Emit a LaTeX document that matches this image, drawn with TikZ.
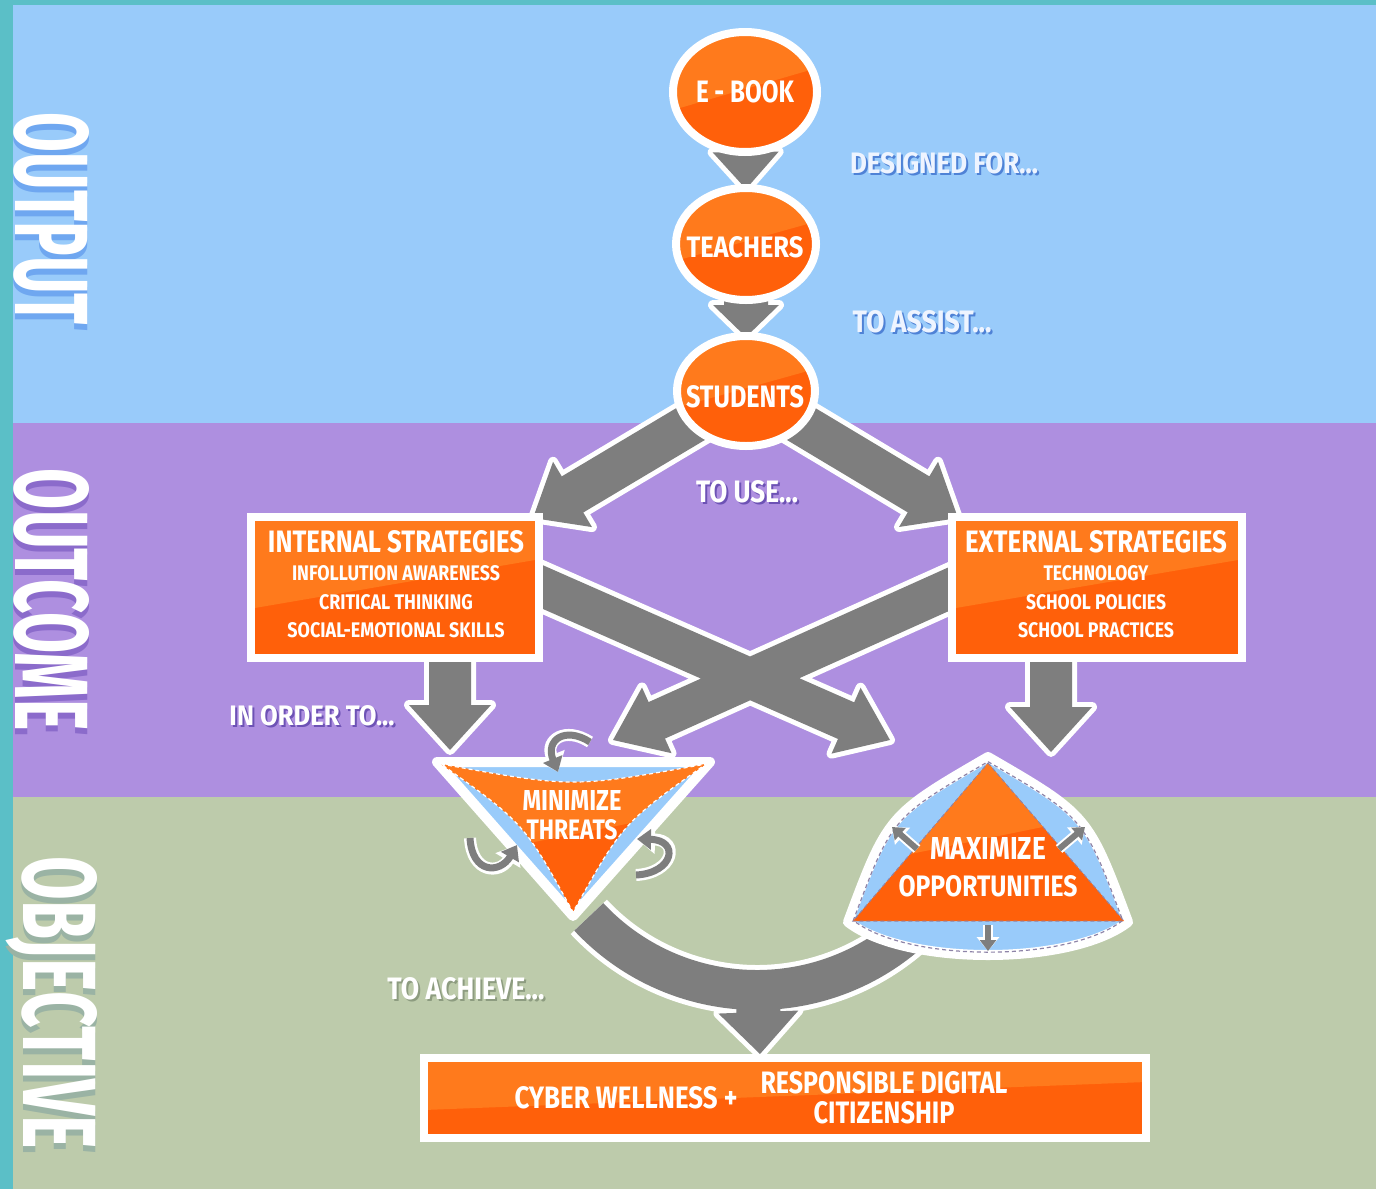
\documentclass[tikz,border=0pt]{standalone}
\usepackage{fontspec}
\usepackage{graphicx}
\setmainfont{Fira Sans}
\usetikzlibrary{shapes.geometric,calc,arrows.meta}
\pgfdeclarelayer{bands}\pgfdeclarelayer{arrows}
\pgfsetlayers{bands,arrows,main}
\definecolor{tealb}{HTML}{5BBFC7}
\definecolor{bandB}{HTML}{99CBFA}
\definecolor{bandP}{HTML}{AE8FE0}
\definecolor{bandG}{HTML}{BDCBAB}
\definecolor{orL}{HTML}{FF7A1C}
\definecolor{orD}{HTML}{FF600A}
\definecolor{grayA}{HTML}{7E7E7E}
\definecolor{shB}{HTML}{4F82D6}
\definecolor{shP}{HTML}{6D52B5}
\definecolor{shG}{HTML}{8D9C80}
\definecolor{txB}{HTML}{EEF4FF}
\definecolor{lblB}{HTML}{6FA7F0}
\definecolor{lblP}{HTML}{8B6BCB}
\definecolor{lblG}{HTML}{9AB3A4}
\definecolor{dashc}{HTML}{8E84A8}
\newcommand\Tx[3]{\resizebox{#1pt}{#2pt}{\bfseries #3}}
\newcommand\defarrow[6]{%
  \coordinate (#1A) at (#2);
  \coordinate (#1B) at (#3);
  \coordinate (#1H) at ($(#1B)!#6!(#1A)$);
  \coordinate (#1p1) at ($(#1A)!#4!90:(#1B)$);
  \coordinate (#1p2) at ($(#1H)!#4!-90:(#1A)$);
  \coordinate (#1p3) at ($(#1H)!#5!-90:(#1A)$);
  \coordinate (#1p5) at ($(#1H)!#5!90:(#1A)$);
  \coordinate (#1p6) at ($(#1H)!#4!90:(#1A)$);
  \coordinate (#1p7) at ($(#1A)!#4!-90:(#1B)$);
}
\tikzset{
  orgrad/.style={path picture={\fill[orL] (path picture bounding box.north west) -- (path picture bounding box.north east) -- ($(path picture bounding box.north east)!0.3!(path picture bounding box.south east)$) -- ($(path picture bounding box.north west)!0.65!(path picture bounding box.south west)$) -- cycle;}},
  txt/.style={inner sep=0pt, text=white, anchor=center},
  lab/.style={inner sep=0pt, text=white, rotate=-90, anchor=center},
  circ/.style={ellipse, draw=white, line width=4pt, fill=orD, inner sep=0pt, orgrad},
  box/.style={rectangle, draw=white, line width=4pt, fill=orD, inner sep=0pt, orgrad},
  arrowout/.style={draw=white, line width=5pt, line join=round},
  smarr/.style={draw=grayA, line width=3.5pt, -{Triangle[width=10pt,length=7pt]},
    preaction={draw=white, line width=6pt, -{Triangle[width=14pt,length=9pt]}}},
  strarr/.style={draw=grayA, line width=3pt, -{Triangle[width=8pt,length=5.5pt]},
    preaction={draw=white, line width=5pt, -{Triangle[width=11pt,length=7pt]}}},
}
\begin{document}
\begin{tikzpicture}[x=0.5pt,y=-0.5pt]
\useasboundingbox (0,0) rectangle (1376,1189);
\begin{pgfonlayer}{bands}
  \fill[tealb] (0,0) rectangle (1376,1189);
  \fill[bandB] (13,5) rectangle (1376,423);
  \fill[bandP] (13,423) rectangle (1376,797);
  \fill[bandG] (13,797) rectangle (1376,1189);
\end{pgfonlayer}

% left side labels
\node[lab, text=lblB] (outputs) at (52,225) {\Tx{106}{37}{OUTPUT}};
\node[lab] (output) at (52,219) {\Tx{106}{37}{OUTPUT}};
\node[lab, text=lblP] (outcomes) at (52,606) {\Tx{131}{37}{OUTCOME}};
\node[lab] (outcome) at (52,600) {\Tx{131}{37}{OUTCOME}};
\node[lab, text=lblG] (objectives) at (52,1009) {\Tx{146}{37}{OBJECTIVE}};
\node[lab] (objective) at (52,1003) {\Tx{146}{37}{OBJECTIVE}};

% circles
\node[circ, minimum width=72pt, minimum height=60pt] (ebook) at (745,92) {};
\node[txt] (ebookt) at (745,92) {\Tx{49}{11}{E - BOOK}};
\node[circ, minimum width=70pt, minimum height=56pt] (teachers) at (746,244) {};
\node[txt] (teacherst) at (745,247) {\Tx{58.5}{10.5}{TEACHERS}};
\node[circ, minimum width=69pt, minimum height=55pt] (students) at (746,391) {};
\node[txt] (studentst) at (745,397) {\Tx{59}{11}{STUDENTS}};

% connector labels
\node[txt, text=shB] (designeds) at (946,165) {\Tx{94}{10.5}{DESIGNED FOR...}};
\node[txt, text=txB] (designed) at (944,163) {\Tx{94}{10.5}{DESIGNED FOR...}};
\node[txt, text=shB] (assists) at (924,324) {\Tx{69.5}{11}{TO ASSIST...}};
\node[txt, text=txB] (assist) at (922,322) {\Tx{69.5}{11}{TO ASSIST...}};
\node[txt, text=shP] (uses) at (749,494) {\Tx{51}{11}{TO USE...}};
\node[txt] (use) at (747,492) {\Tx{51}{11}{TO USE...}};
\node[txt, text=shP] (orders) at (314,718) {\Tx{82.5}{10}{IN ORDER TO...}};
\node[txt] (order) at (312,716) {\Tx{82.5}{10}{IN ORDER TO...}};
\node[txt, text=shG] (achieves) at (468,991) {\Tx{78.5}{11}{TO ACHIEVE...}};
\node[txt] (achieve) at (466,989) {\Tx{78.5}{11}{TO ACHIEVE...}};

% strategy boxes
\node[box, minimum width=144pt, minimum height=70.5pt] (internal) at (395,587.5) {};
\node[txt] (int1) at (396,542) {\Tx{128}{11}{INTERNAL STRATEGIES}};
\node[txt] (int2) at (396,573) {\Tx{104}{7.5}{INFOLLUTION AWARENESS}};
\node[txt] (int3) at (396,602) {\Tx{77}{7.5}{CRITICAL THINKING}};
\node[txt] (int4) at (396,630) {\Tx{108.5}{7.5}{SOCIAL-EMOTIONAL SKILLS}};
\node[box, minimum width=145pt, minimum height=70.5pt] (external) at (1097,587.5) {};
\node[txt] (ext1) at (1096,542) {\Tx{131}{11}{EXTERNAL STRATEGIES}};
\node[txt] (ext2) at (1096,573) {\Tx{52.5}{7.5}{TECHNOLOGY}};
\node[txt] (ext3) at (1096,602) {\Tx{70}{7.5}{SCHOOL POLICIES}};
\node[txt] (ext4) at (1096,630) {\Tx{78}{7.5}{SCHOOL PRACTICES}};

% final box
\node[box, minimum width=361pt, minimum height=40pt] (final) at (785,1098) {};
\node[txt] (fin1) at (626,1098) {\Tx{111.5}{11}{CYBER WELLNESS +}};
\node[txt] (fin2) at (884,1083) {\Tx{123.5}{11}{RESPONSIBLE DIGITAL}};
\node[txt] (fin3) at (884,1113) {\Tx{70.5}{11}{CITIZENSHIP}};

% minimize threats
\draw[white, line width=5pt, line join=round, fill=bandB] (437,762) -- (710,762) -- (573,916) -- cycle;
\def\minpath{(441,764) .. controls (573,788) .. (706,764) .. controls (623,823) .. (573,912) .. controls (524,823) .. (441,764) -- cycle}
\fill[orD, orgrad] \minpath;
\draw[white, line width=0.6pt, dash pattern=on 2pt off 1.5pt] \minpath;
\draw[smarr] (590,742) .. controls (565,726) and (545,740) .. (558,772);
\draw[smarr] (470,838) .. controls (472,874) and (500,874) .. (517,845);
\draw[smarr] (636,875) .. controls (674,873) and (680,840) .. (637,839);
\node[txt] (min1) at (572,800) {\Tx{49.5}{10}{MINIMIZE}};
\node[txt] (min2) at (572,830) {\Tx{45.5}{10}{THREATS}};

% maximize opportunities
\def\maxouter{(988,757) .. controls (1088,815) .. (1128,922) .. controls (1071,966) and (905,966) .. (848,922) .. controls (888,815) .. (988,757) -- cycle}
\draw[white, line width=5pt, line join=round, fill=bandB] \maxouter;
\draw[dashc, line width=0.6pt, dash pattern=on 2pt off 1.5pt, shift={(988,880)}, scale=0.962, shift={(-988,-880)}] \maxouter;
\fill[orD, orgrad] (988,763) -- (1124,921) -- (853,921) -- cycle;
\draw[dashc, line width=0.5pt, dash pattern=on 2pt off 1.5pt] (988,763) -- (1124,921) -- (853,921) -- cycle;
\draw[strarr] (917,849) -- (892,827);
\draw[strarr] (1059,849) -- (1085,827);
\draw[strarr] (988,925) -- (988,951);
\node[txt] (max1) at (988,848) {\Tx{58}{11}{MAXIMIZE}};
\node[txt] (max2) at (988,886) {\Tx{89.5}{10.5}{OPPORTUNITIES}};

% block arrows
\begin{pgfonlayer}{arrows}
  \defarrow{a}{ebook.center}{$(teachers.north)+(0,5)$}{11pt}{16.5pt}{18.5pt}
  \defarrow{b}{teachers.center}{$(students.north)+(0,5)$}{11pt}{16.5pt}{16pt}
  \defarrow{c}{students.center}{$(internal.north east)+(-10,5)$}{10.5pt}{19pt}{23pt}
  \defarrow{d}{students.center}{$(external.north west)+(10,5)$}{10.5pt}{19pt}{23pt}
  \defarrow{e}{$(internal.east)+(-40,-18)$}{890,740}{10pt}{18pt}{24pt}
  \defarrow{f}{$(external.west)+(40,-16)$}{613,740}{10pt}{18pt}{24pt}
  \defarrow{g}{$(internal.south)+(55,-20)$}{450,750}{10.5pt}{20.5pt}{22.5pt}
  \defarrow{h}{$(external.south)+(-46,-20)$}{1051,752}{10.5pt}{20.5pt}{22.5pt}
  \defarrow{k}{757,975}{$(final.north)+(-25,0)$}{11pt}{20pt}{21pt}
  \coordinate (arcc) at (757,760);
  \draw[arrowout] \foreach \n in {a,b,c,d,e,f,g,h,k} {(\n p1) -- (\n p2) -- (\n p3) -- (\n B) -- (\n p5) -- (\n p6) -- (\n p7) -- cycle};
  \draw[white, line width=25pt] ([shift={(137:230)}]arcc) arc[start angle=137, end angle=45, radius=230];
  \fill[grayA] \foreach \n in {a,b,c,d,e,f,g,h,k} {(\n p1) -- (\n p2) -- (\n p3) -- (\n B) -- (\n p5) -- (\n p6) -- (\n p7) -- cycle};
  \draw[grayA, line width=20pt] ([shift={(137:230)}]arcc) arc[start angle=137, end angle=45, radius=230];
\end{pgfonlayer}
\end{tikzpicture}
\end{document}
